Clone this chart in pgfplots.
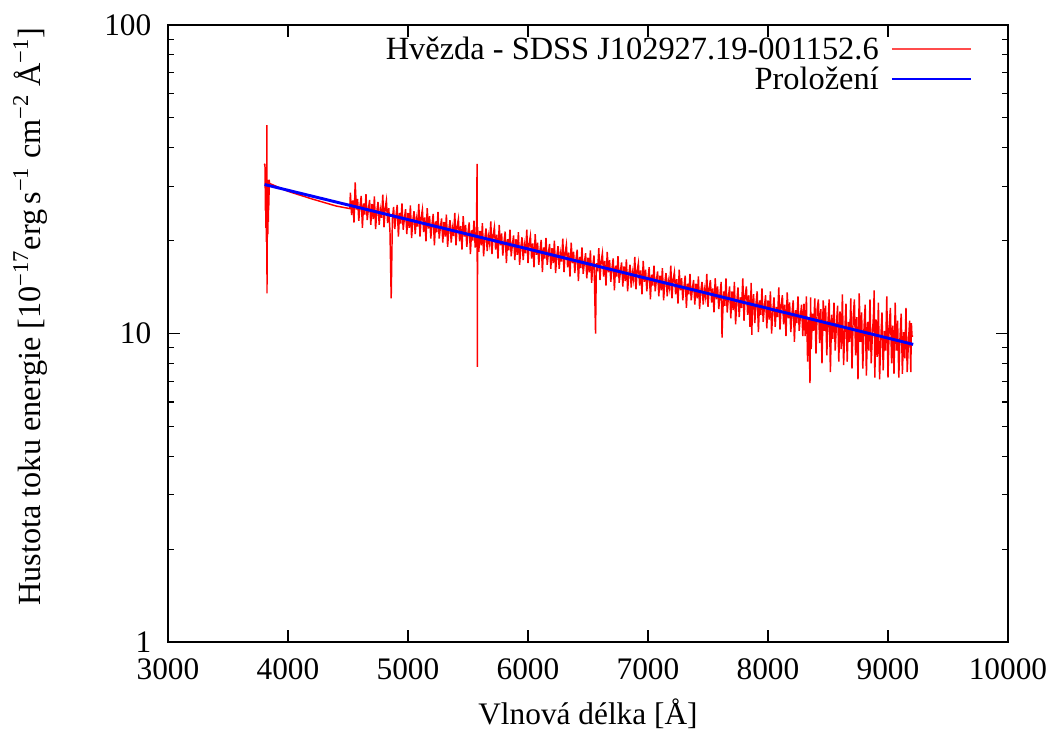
\documentclass[border=0pt]{standalone}
\usepackage{fontspec}
\setmainfont{Liberation Serif}
\usepackage{pgfplots}
\usepackage{pgfplotstable}
\pgfplotsset{compat=1.18}
\begin{document}
\pgfplotstableread{
lam flux
3800 35.4
3808 35.3
3810 30.5
3812 25.0
3814 31.0
3816 22.0
3818 30.0
3820 19.8
3822 28.0
3824 47.4
3825 13.5
3827 30.0
3829 20.5
3831 29.5
3833 21.0
3835 31.5
3837 23.0
3839 30.0
3841 26.0
3843 31.5
3846 30.8
3850 30.6
4000 28.9
4200 27.3
4400 25.9
4515 25.4
4520 28.6
4530 24.2
4540 27.0
4550 22.9
4560 30.9
4570 25.2
4580 27.3
4590 23.2
4600 25.9
4610 27.9
4620 22.0
4630 26.4
4640 24.3
4650 28.3
4660 23.3
4670 25.3
4680 27.1
4690 22.5
4700 26.3
4710 23.5
4720 27.8
4730 21.8
4740 24.8
4750 26.7
4760 22.5
4770 25.2
4780 23.7
4790 28.2
4800 22.1
4810 25.5
4820 27.0
4830 22.8
4840 25.5
4850 21.3
4860 13.0
4865 17.5
4870 23.5
4880 25.7
4890 21.8
4900 24.1
4910 26.1
4920 20.6
4930 24.6
4940 22.7
4950 26.4
4960 21.7
4970 23.6
4980 25.3
4990 21.0
5000 24.6
5010 22.0
5020 26.0
5030 20.4
5040 23.2
5050 24.9
5060 21.0
5070 23.6
5080 22.2
5090 26.3
5100 20.6
5110 23.8
5120 25.2
5130 21.3
5140 23.8
5150 19.9
5160 25.5
5170 21.9
5180 24.0
5190 20.3
5200 22.6
5210 24.4
5220 19.3
5230 23.1
5240 21.3
5250 24.8
5260 20.3
5270 22.1
5280 23.6
5290 19.7
5300 23.0
5310 20.6
5320 24.3
5330 19.1
5340 21.7
5350 23.3
5360 19.7
5370 22.0
5380 20.7
5390 24.6
5400 19.3
5410 22.3
5420 23.5
5430 19.9
5440 22.3
5450 18.7
5460 24.0
5470 20.6
5480 22.5
5490 19.1
5500 21.2
5510 22.9
5520 18.1
5530 21.6
5540 20.0
5550 23.2
5560 19.0
5570 20.7
5576 35.5
5578 7.8
5580 22.1
5590 18.4
5600 21.5
5610 19.3
5620 22.8
5630 17.8
5640 20.3
5650 21.9
5660 18.5
5670 20.7
5680 19.5
5690 23.1
5700 18.1
5710 20.9
5720 22.1
5730 18.7
5740 20.9
5750 17.5
5760 22.5
5770 19.3
5780 21.1
5790 17.9
5800 19.8
5810 21.4
5820 16.9
5830 20.2
5840 18.6
5850 21.7
5860 17.8
5870 19.4
5880 20.8
5890 17.3
5900 20.2
5910 18.0
5920 21.3
5930 16.7
5940 19.0
5950 20.5
5960 17.3
5970 19.4
5980 18.2
5990 21.7
6000 16.9
6010 19.6
6020 20.7
6030 17.5
6040 19.6
6050 16.4
6060 21.0
6070 18.0
6080 19.7
6090 16.7
6100 18.6
6110 20.1
6120 15.8
6130 19.0
6140 17.5
6150 20.4
6160 16.7
6170 18.2
6180 19.5
6190 16.2
6200 18.9
6210 16.9
6220 20.0
6230 15.7
6240 17.8
6250 19.2
6260 16.2
6270 18.2
6280 17.1
6290 20.3
6300 15.8
6310 18.3
6320 19.4
6330 16.4
6340 18.3
6350 15.3
6360 19.7
6370 16.9
6380 18.4
6390 15.7
6400 17.4
6410 18.7
6420 14.8
6430 17.7
6440 16.3
6450 19.0
6460 15.6
6470 17.0
6480 18.2
6490 15.1
6500 17.6
6510 15.8
6520 18.6
6530 14.6
6540 16.6
6550 17.9
6556 13.5
6563 10.0
6568 14.8
6570 16.9
6580 15.9
6590 18.9
6600 14.9
6610 17.2
6620 18.2
6630 15.3
6640 17.2
6650 14.3
6660 18.4
6670 15.8
6680 17.3
6690 14.7
6700 16.3
6710 17.5
6720 13.8
6730 16.6
6740 15.3
6750 17.8
6760 14.6
6770 15.9
6780 17.0
6790 14.2
6800 16.5
6810 14.8
6820 17.4
6830 13.7
6840 15.5
6850 16.7
6860 14.1
6870 15.8
6880 14.9
6890 17.7
6900 13.9
6910 16.0
6920 16.9
6930 14.3
6940 16.0
6950 13.4
6960 17.2
6970 14.7
6980 16.1
6990 13.7
7000 15.2
7010 16.4
7020 12.9
7030 15.5
7040 14.3
7050 16.6
7060 13.7
7070 14.9
7080 15.9
7090 13.2
7100 15.4
7110 13.8
7120 16.3
7130 12.8
7140 14.6
7150 15.7
7160 13.2
7170 14.8
7180 14.0
7190 16.6
7200 13.0
7210 15.0
7220 15.8
7230 13.4
7240 15.0
7250 12.5
7260 16.1
7270 13.8
7280 15.1
7290 12.8
7300 14.2
7310 15.4
7320 12.1
7330 14.5
7340 13.4
7350 15.6
7360 12.8
7370 14.0
7380 14.9
7390 12.4
7400 14.5
7410 13.0
7420 15.3
7430 12.0
7440 13.7
7450 14.7
7460 12.4
7470 13.9
7480 13.1
7490 15.6
7500 12.2
7510 14.0
7520 14.9
7530 12.6
7540 14.0
7550 11.7
7560 15.1
7570 12.9
7580 14.2
7590 12.0
7600 13.4
7610 14.7
7617 9.7
7620 10.8
7630 13.7
7640 12.3
7650 15.1
7660 11.7
7670 13.1
7680 14.2
7690 11.2
7700 13.7
7710 11.9
7720 14.7
7730 10.7
7740 12.7
7750 14.1
7760 11.3
7770 13.1
7780 12.1
7790 15.1
7800 11.0
7810 13.3
7820 14.2
7830 11.5
7840 13.3
7850 10.5
7860 14.6
7865 9.9
7870 12.0
7880 13.4
7890 10.8
7900 12.5
7910 13.7
7920 10.1
7930 12.8
7940 11.5
7950 14.0
7960 10.9
7970 12.2
7980 13.3
7990 10.4
8000 12.8
8010 11.1
8020 13.7
8030 10.0
8040 11.8
8050 13.1
8060 10.5
8070 12.2
8080 11.3
8090 14.1
8100 10.3
8110 12.4
8120 13.3
8130 10.7
8140 12.4
8150 9.8
8160 13.6
8170 11.2
8180 12.6
8190 10.1
8200 11.6
8210 12.8
8220 9.4
8230 11.9
8240 10.8
8250 13.2
8260 10.2
8270 11.4
8280 12.4
8290 9.8
8300 12.5
8310 9.8
8320 13.2
8330 8.1
8340 11.1
8350 6.9
8355 13.1
8360 8.9
8370 11.6
8380 10.2
8390 13.0
8400 8.6
8410 12.0
8420 12.9
8430 9.3
8440 12.0
8450 8.0
8460 12.8
8470 10.2
8480 12.3
8490 8.5
8500 11.0
8510 12.9
8520 7.5
8530 11.5
8540 9.6
8550 12.6
8560 8.8
8570 10.7
8580 12.3
8590 8.1
8600 11.8
8610 8.9
8620 13.4
8630 7.9
8640 10.2
8650 12.5
8660 8.1
8670 10.9
8680 9.4
8690 13.0
8700 7.7
8710 11.3
8720 12.9
8730 8.5
8740 11.3
8750 7.1
8760 13.5
8770 9.4
8780 11.7
8790 7.7
8800 10.4
8810 12.4
8820 7.3
8830 10.9
8840 8.8
8850 12.9
8860 8.0
8870 9.9
8880 11.7
8885 13.8
8890 7.2
8900 11.1
8910 8.4
8920 12.6
8930 7.1
8940 9.6
8950 11.7
8960 7.6
8970 10.2
8980 8.8
8990 13.2
9000 7.2
9010 10.6
9020 12.1
9030 8.0
9040 10.6
9050 7.4
9060 12.6
9070 8.8
9080 11.0
9090 7.2
9100 9.7
9110 11.6
9120 7.4
9130 10.1
9140 8.3
9150 12.1
9160 7.5
9170 9.3
9180 11.0
9190 7.5
9195 10.8
9200 9.8
9210 9.8
}\spec
\pgfplotstableread{
lam flux
3805 30.4
6000 18.8
9210 9.22
}\fit
\begin{tikzpicture}[font=\fontsize{23.5}{28}\selectfont]
\begin{axis}[
  at={(0,0)}, anchor=south west,
  scale only axis, width=630pt, height=462.75pt,
  xmin=3000, xmax=10000, ymin=1, ymax=100, ymode=log,
  scaled x ticks=false,
  xtick={3000,4000,...,10000},
  xticklabels={3000,4000,5000,6000,7000,8000,9000,10000},
  ytick={1,10,100}, yticklabels={1,10,100},
  minor ytick={2,3,4,5,6,7,8,9,20,30,40,50,60,70,80,90},
  major tick length=9pt, minor tick length=4.5pt,
  tick align=inside,
  axis line style={line width=0.9pt},
  every tick/.style={black, line width=0.9pt},
  xticklabel style={yshift=-9pt},
  yticklabel style={xshift=-9pt},
  xlabel={Vlnová délka [Å]},
  ylabel={Hustota toku energie [10\textsuperscript{−17}erg\,s\textsuperscript{−1} cm\textsuperscript{−2} Å\textsuperscript{−1}]},
  x label style={at={(axis description cs:0.5,-0.117)}, anchor=center},
  y label style={at={(axis description cs:-0.164,0.527)}, anchor=center, rotate=0, font=\fontsize{24.2}{28}\selectfont},
  legend style={draw=none, fill=none, at={(axis description cs:0.962,0.99)}, anchor=north east, row sep=0pt, font=\fontsize{24.3}{29}\selectfont},
  legend cell align=right, legend plot pos=right,
]
\addlegendimage{red!75!white, line width=1pt, legend image code/.code={\path (0pt,0pt); \draw[red!70!white, line width=1pt] (7pt,0pt) -- (66pt,0pt);}}
\addlegendentry{Hvězda - SDSS J102927.19-001152.6}
\addlegendimage{blue, line width=1.8pt, legend image code/.code={\path (0pt,0pt); \draw[blue, line width=1.8pt] (7pt,0pt) -- (66pt,0pt);}}
\addlegendentry{Proložení}
\addplot[red, line width=1.1pt, forget plot] table[x=lam, y=flux] {\spec};
\addplot[blue, line width=2.2pt, forget plot] table[x=lam, y=flux] {\fit};
\end{axis}
\pgfresetboundingbox
\path[use as bounding box] (-126pt,-66.75pt) rectangle (661.5pt,481.5pt);
\end{tikzpicture}
\end{document}
